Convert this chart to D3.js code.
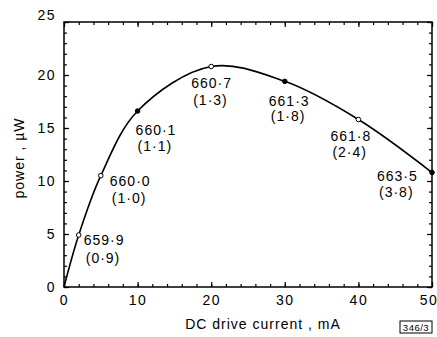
<!DOCTYPE html>
<html>
<head>
<meta charset="utf-8">
<script src="https://cdn.jsdelivr.net/npm/d3@7"></script>
<style>
  html, body { margin: 0; padding: 0; background: #fff; }
  svg { display: block; }
  text { font-family: "Liberation Sans", Arial, sans-serif; fill: #000; }
</style>
</head>
<body>
<svg id="chart" width="437" height="337"></svg>
<script>
// Measured output power of the laser diode against DC drive current,
// annotated with peak wavelength (nm) and linewidth (in brackets).
const current = [0, 2, 5, 10, 20, 30, 40, 50];
const power = [0, 4.9, 10.5, 16.6, 20.8, 19.4, 15.8, 10.8];
const wavelength = ["", "659·9", "660·0", "660·1", "660·7", "661·3", "661·8", "663·5"];
const linewidth = ["", "(0·9)", "(1·0)", "(1·1)", "(1·3)", "(1·8)", "(2·4)", "(3·8)"];
const filledMarker = [false, false, false, true, false, true, false, true];
const xTicks = [0, 10, 20, 30, 40, 50];
const yTicks = [0, 5, 10, 15, 20, 25];

// Annotation placement relative to each point: [dx, dy line 1, dy line 2]
const labelOffset = [
  null,
  [5, 5, 23],
  [9, 5, 22],
  [-2, 19, 35],
  [-20, 17, 34],
  [-16, 20, 35],
  [-28, 17, 33],
  [-55, 4, 20]
];

const svg = d3.select("#chart");
const m = { left: 64, right: 5, top: 22, bottom: 50 };
const W = 437, H = 337;
const x = d3.scaleLinear().domain([0, 50]).range([m.left, W - m.right]);
const y = d3.scaleLinear().domain([0, 25]).range([H - m.bottom, m.top]);

// Frame
svg.append("rect")
  .attr("x", x(0)).attr("y", y(25))
  .attr("width", x(50) - x(0)).attr("height", y(0) - y(25))
  .attr("fill", "none").attr("stroke", "#000").attr("stroke-width", 1.5);

function styleAxis(g) {
  g.select(".domain").remove();
  g.selectAll(".tick line").attr("stroke", "#000").attr("stroke-width", 1.2);
  g.selectAll("text").attr("font-size", 14).attr("letter-spacing", 1.5);
}

const minorX = d3.range(0, 51, 2);
const minorY = d3.range(0, 26, 1);

// Bottom axis with labels, ticks pointing into the plot
const bottom = svg.append("g").attr("transform", `translate(0,${y(0)})`)
  .call(d3.axisBottom(x).tickValues(xTicks).tickSize(-5).tickPadding(8).tickFormat(d3.format("d")))
  .call(styleAxis);
bottom.selectAll(".tick text").filter(d => d === 50).attr("dx", "-0.25em");
svg.append("g").attr("transform", `translate(0,${y(0)})`)
  .call(d3.axisBottom(x).tickValues(minorX).tickSize(-3).tickFormat(""))
  .call(styleAxis);

// Top axis ticks
svg.append("g").attr("transform", `translate(0,${y(25)})`)
  .call(d3.axisTop(x).tickValues(xTicks).tickSize(-5).tickFormat(""))
  .call(styleAxis);
svg.append("g").attr("transform", `translate(0,${y(25)})`)
  .call(d3.axisTop(x).tickValues(minorX).tickSize(-3).tickFormat(""))
  .call(styleAxis);

// Left axis with labels
const left = svg.append("g").attr("transform", `translate(${x(0)},0)`)
  .call(d3.axisLeft(y).tickValues(yTicks).tickSize(-5).tickPadding(8).tickFormat(d3.format("d")))
  .call(styleAxis);
left.selectAll(".tick text").filter(d => d === 25).attr("dy", "-0.15em");
svg.append("g").attr("transform", `translate(${x(0)},0)`)
  .call(d3.axisLeft(y).tickValues(minorY).tickSize(-3).tickFormat(""))
  .call(styleAxis);

// Right axis ticks
svg.append("g").attr("transform", `translate(${x(50)},0)`)
  .call(d3.axisRight(y).tickValues(yTicks).tickSize(-5).tickFormat(""))
  .call(styleAxis);
svg.append("g").attr("transform", `translate(${x(50)},0)`)
  .call(d3.axisRight(y).tickValues(minorY).tickSize(-3).tickFormat(""))
  .call(styleAxis);

// Axis titles
svg.append("text")
  .attr("x", 263).attr("y", 329)
  .attr("text-anchor", "middle").attr("font-size", 14).attr("letter-spacing", 1)
  .text("DC drive current , mA");

svg.append("text")
  .attr("transform", "translate(24,158) rotate(-90)")
  .attr("text-anchor", "middle").attr("font-size", 14).attr("letter-spacing", 1)
  .text("power , µW");

// Figure number box
const fig = svg.append("g").attr("transform", "translate(400,321)");
fig.append("rect").attr("width", 32).attr("height", 12)
  .attr("fill", "none").attr("stroke", "#000").attr("stroke-width", 1);
fig.append("text").attr("x", 16).attr("y", 9.5).attr("text-anchor", "middle")
  .attr("font-size", 9.5).attr("letter-spacing", 0.5).text("346/3");

// Curve through the measured points
const pts = current.map((c, i) => ({ c, p: power[i], i }));
const line = d3.line().x(d => x(d.c)).y(d => y(d.p)).curve(d3.curveCatmullRom.alpha(0.5));
svg.append("path").datum(pts)
  .attr("d", line).attr("fill", "none").attr("stroke", "#000").attr("stroke-width", 1.6);

// Markers
svg.selectAll("circle.pt").data(pts.filter(d => d.i > 0)).join("circle")
  .attr("class", "pt")
  .attr("cx", d => x(d.c)).attr("cy", d => y(d.p)).attr("r", 2.3)
  .attr("fill", d => filledMarker[d.i] ? "#000" : "#fff")
  .attr("stroke", "#000").attr("stroke-width", 1);

// Annotations
const ann = svg.selectAll("g.ann").data(pts.filter(d => d.i > 0)).join("g").attr("class", "ann");
ann.append("text")
  .attr("x", d => x(d.c) + labelOffset[d.i][0])
  .attr("y", d => y(d.p) + labelOffset[d.i][1])
  .attr("dy", "0.35em").attr("font-size", 14).attr("letter-spacing", 1)
  .text(d => wavelength[d.i]);
ann.append("text")
  .attr("x", d => x(d.c) + labelOffset[d.i][0] + 2)
  .attr("y", d => y(d.p) + labelOffset[d.i][2])
  .attr("dy", "0.35em").attr("font-size", 14).attr("letter-spacing", 1)
  .text(d => linewidth[d.i]);
</script>
</body>
</html>
